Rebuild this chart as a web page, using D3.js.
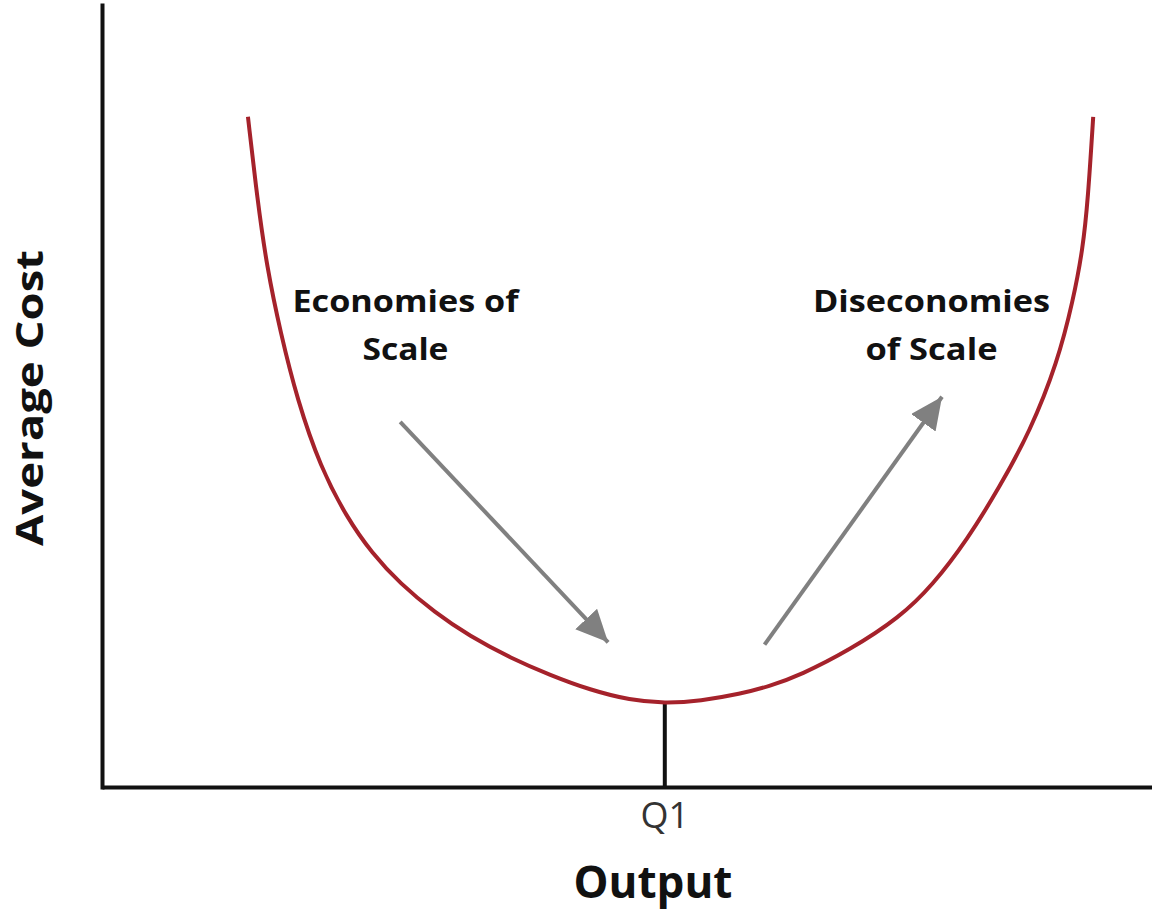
<!doctype html>
<html lang="en">
  <head>
    <meta charset="utf-8">
    <title>Economies of Scale</title>
    <script src="https://d3js.org/d3.v7.min.js"></script>
    <style>
      body { margin: 0; background: #fff; }
      svg { display: block; font-family: "Open Sans", sans-serif; }
    </style>
  </head>
  <body>
    <div id="chart"></div>
    <script>

      // long-run average cost curve (output 0-100, cost 0-100)
      const outputVals = [13.9, 14.8, 15.7, 17.0, 18.6, 20.8, 23.3, 25.7, 28.4, 31.7, 35.0, 38.9, 42.7, 46.5, 50.3, 53.6,
                          57.0, 60.8, 63.6, 66.5, 71.2, 76.0, 79.1, 82.4, 85.5, 88.4, 91.0, 92.5, 93.4, 93.9, 94.4];
      const costVals   = [85.7, 75.1, 66.5, 58.1, 49.5, 40.9, 34.5, 29.9, 26.0, 22.3, 19.3, 16.5, 14.3, 12.4, 11.1, 10.7,
                          11.0, 11.9, 12.9, 14.3, 17.5, 21.7, 25.8, 31.6, 38.4, 45.5, 54.3, 62.3, 68.7, 75.1, 85.7];

      // minimum point
      const q1Output = 53.6;
      const q1Cost = 10.7;
      const tickLabels = ["Q1"];

      // arrows: [output, cost] at tail and tip
      const arrowNames = ["economies", "diseconomies"];
      const arrowFrom = [[28.4, 46.7], [63.1, 18.2]];
      const arrowTo   = [[48.2, 18.5], [80.0, 49.9]];

      // annotation labels: lines, anchor output, baseline costs
      const labelLines = [["Economies of", "Scale"], ["Diseconomies", "of Scale"]];
      const labelOutput = [28.9, 79.0];
      const labelCost = [[60.7, 54.6], [60.7, 54.6]];
      const labelWidths = [[226, 86], [237, 132]];

      const W = 1152, H = 913;
      const x = d3.scaleLinear().domain([0, 100]).range([102, 1152]);
      const y = d3.scaleLinear().domain([0, 100]).range([787, 5]);

      const svg = d3.select("#chart").append("svg")
        .attr("width", W)
        .attr("height", H);

      svg.append("defs").append("marker")
        .attr("id", "head")
        .attr("viewBox", "0 0 32 30")
        .attr("refX", 32)
        .attr("refY", 15)
        .attr("markerWidth", 32)
        .attr("markerHeight", 30)
        .attr("markerUnits", "userSpaceOnUse")
        .attr("orient", "auto")
        .append("path")
          .attr("d", "M0,0 L32,15 L0,30 Z")
          .attr("fill", "#808080");

      // axes (plain lines, no ticks)
      const xAxis = d3.axisBottom(x).tickValues([]).tickSizeOuter(0);
      const yAxis = d3.axisLeft(y).tickValues([]).tickSizeOuter(0);
      svg.append("g")
        .attr("transform", `translate(0,${y(0)})`)
        .call(xAxis)
        .call(g => g.select(".domain").attr("stroke", "#111").attr("stroke-width", 4));
      svg.append("g")
        .attr("transform", `translate(${x(0)},0)`)
        .call(yAxis)
        .call(g => g.select(".domain").attr("stroke", "#111").attr("stroke-width", 4)
          .attr("stroke-linecap", "square"));

      // Q1 drop line and label
      svg.append("line")
        .attr("x1", x(q1Output)).attr("x2", x(q1Output))
        .attr("y1", y(0)).attr("y2", y(q1Cost))
        .attr("stroke", "#111")
        .attr("stroke-width", 4);
      svg.append("text")
        .attr("x", x(q1Output))
        .attr("y", y(0) + 41)
        .attr("text-anchor", "middle")
        .attr("font-size", "36px")
        .attr("fill", "#333")
        .text(tickLabels[0]);

      // cost curve
      const line = d3.line()
        .x(i => x(outputVals[i]))
        .y(i => y(costVals[i]))
        .curve(d3.curveBasis);
      svg.append("path")
        .attr("d", line(d3.range(outputVals.length)))
        .attr("fill", "none")
        .attr("stroke", "#a5222b")
        .attr("stroke-width", 4);

      // arrows
      arrowNames.forEach((name, i) => {
        svg.append("line")
          .attr("class", "arrow " + name)
          .attr("x1", x(arrowFrom[i][0])).attr("y1", y(arrowFrom[i][1]))
          .attr("x2", x(arrowTo[i][0])).attr("y2", y(arrowTo[i][1]))
          .attr("stroke", "#808080")
          .attr("stroke-width", 4)
          .attr("marker-end", "url(#head)");
      });

      // annotation labels
      labelLines.forEach((lines, i) => {
        lines.forEach((t, j) => {
          svg.append("text")
            .attr("x", x(labelOutput[i]))
            .attr("y", y(labelCost[i][j]))
            .attr("text-anchor", "middle")
            .attr("font-size", "31px")
            .attr("font-weight", 700)
            .attr("fill", "#111")
            .attr("textLength", labelWidths[i][j])
            .attr("lengthAdjust", "spacingAndGlyphs")
            .text(t);
        });
      });

      // axis titles
      svg.append("text")
        .attr("x", 653)
        .attr("y", 898)
        .attr("text-anchor", "middle")
        .attr("font-size", "44px")
        .attr("font-weight", 700)
        .attr("fill", "#111")
        .text("Output");

      svg.append("text")
        .attr("transform", "translate(43,398) rotate(-90)")
        .attr("text-anchor", "middle")
        .attr("font-size", "38px")
        .attr("font-weight", 700)
        .attr("fill", "#111")
        .attr("textLength", 296)
        .attr("lengthAdjust", "spacingAndGlyphs")
        .text("Average Cost");

    </script>
  </body>
</html>
